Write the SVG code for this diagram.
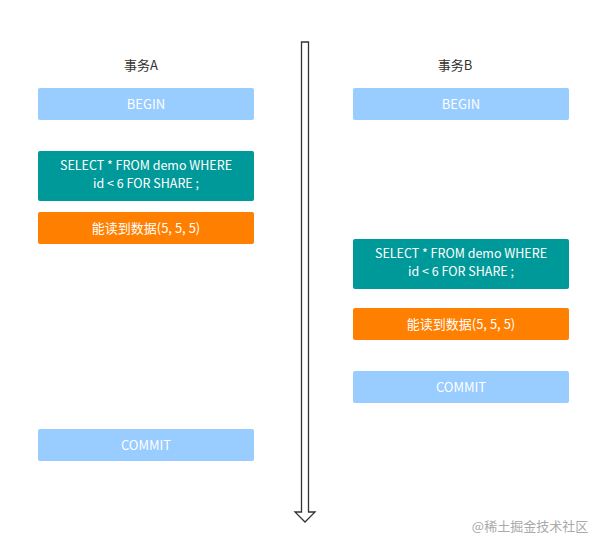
<svg xmlns="http://www.w3.org/2000/svg" width="602" height="550" viewBox="0 0 602 550">
<style>
text{font-family:"Microsoft YaHei","Noto Sans CJK SC",sans-serif;font-size:13px;text-anchor:middle}
.w{fill:#fff}
.s{font-size:12.5px}
.b{fill:#99CCFF}.t{fill:#009999}.o{fill:#FF8000}
</style>
<rect width="602" height="550" fill="#fff"/>
<g id="connectors">
<path d="M301.5 42 H308.5 V512 H315 L305 522 L295 512 H301.5 Z" fill="#fff" stroke="#333" stroke-width="1.3"/>
</g>
<g id="labelA"><text x="141" y="70" fill="#333">事务A</text></g>
<g id="labelB"><text x="455" y="70" fill="#333">事务B</text></g>
<g id="a1"><rect class="b" x="38" y="88" width="216" height="32" rx="2"/><text class="w" x="146" y="109">BEGIN</text></g>
<g id="a2"><rect class="t" x="38" y="151" width="216" height="50" rx="2"/><text class="w s" x="146" y="170">SELECT * FROM demo WHERE</text><text class="w s" x="146" y="188">id &lt; 6 FOR SHARE ;</text></g>
<g id="a3"><rect class="o" x="38" y="212" width="216" height="32" rx="2"/><text class="w" x="146" y="233">能读到数据(5, 5, 5)</text></g>
<g id="a4"><rect class="b" x="38" y="429" width="216" height="32" rx="2"/><text class="w" x="146" y="450">COMMIT</text></g>
<g id="b1"><rect class="b" x="353" y="88" width="216" height="32" rx="2"/><text class="w" x="461" y="109">BEGIN</text></g>
<g id="b2"><rect class="t" x="353" y="239" width="216" height="50" rx="2"/><text class="w s" x="461" y="258">SELECT * FROM demo WHERE</text><text class="w s" x="461" y="276">id &lt; 6 FOR SHARE ;</text></g>
<g id="b3"><rect class="o" x="353" y="308" width="216" height="32" rx="2"/><text class="w" x="461" y="329">能读到数据(5, 5, 5)</text></g>
<g id="b4"><rect class="b" x="353" y="371" width="216" height="32" rx="2"/><text class="w" x="461" y="392">COMMIT</text></g>
<text x="530" y="531" fill="#aaa" font-size="13">@稀土掘金技术社区</text>
</svg>
